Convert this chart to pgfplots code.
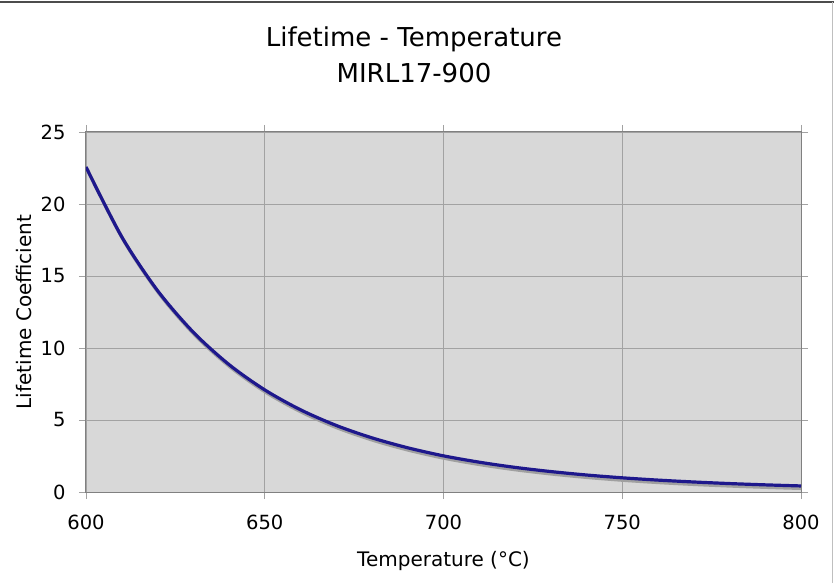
\documentclass[border=0pt]{standalone}
\usepackage{fontspec}
\setmainfont{DejaVu Sans}
\usepackage{pgfplots}
\pgfplotsset{compat=1.18}

\definecolor{plotbg}{RGB}{216,216,216}
\definecolor{gridc}{RGB}{162,162,162}
\definecolor{axisc}{RGB}{128,128,128}
\definecolor{curve}{RGB}{30,24,140}
\definecolor{shadow}{RGB}{160,160,160}

\pgfplotstableread{
T     L
600   22.57
610   17.72
620   13.99
630   11.10
640   8.85
650   7.09
660   5.71
670   4.62
680   3.76
690   3.07
700   2.51
710   2.07
720   1.71
730   1.42
740   1.18
750   0.985
760   0.826
770   0.695
780   0.586
790   0.496
800   0.42
}\lifetime

\begin{document}
\begin{tikzpicture}
\path[use as bounding box] (-86pt,-91pt) rectangle (748pt,492pt);
\begin{axis}[
    scale only axis,
    width=715pt, height=360pt,
    xmin=600, xmax=800, ymin=0, ymax=25,
    xtick={600,650,...,800},
    ytick={0,5,...,25},
    grid=major,
    grid style={gridc, line width=0.8pt},
    axis line style={axisc, line width=1pt},
    tick style={gridc, line width=0.8pt},
    tick align=outside,
    major tick length=7pt,
    axis background/.style={fill=plotbg},
    /pgf/number format/assume math mode=true,
    ticklabel style={font=\fontsize{19.5}{22}\selectfont},
    xticklabel style={yshift=-12pt},
    yticklabel style={xshift=-10pt},
    xlabel={Temperature (°C)},
    ylabel={Lifetime Coefficient},
    label style={font=\fontsize{20}{24}\selectfont},
    xlabel style={at={(axis description cs:0.5,0)}, anchor=base, yshift=-74pt},
    ylabel style={at={(axis description cs:0,0.5)}, anchor=base, yshift=54pt},
    title={Lifetime - Temperature\\MIRL17-900},
    title style={font=\fontsize{26}{36}\selectfont, align=center,
        at={(axis description cs:0.4587,1)}, anchor=base, yshift=43pt},
]
\addplot[shadow, line width=3.4pt, smooth, xshift=1.2pt, yshift=-2.4pt] table[x=T, y=L] {\lifetime};
\addplot[curve, line width=3.2pt, smooth] table[x=T, y=L] {\lifetime};
\end{axis}
\draw[black!70, line width=1.2pt] (-86pt,490pt) -- (748pt,490pt);
\draw[black!25, line width=1pt] (746pt,-91pt) -- (746pt,490pt);
\end{tikzpicture}
\end{document}
